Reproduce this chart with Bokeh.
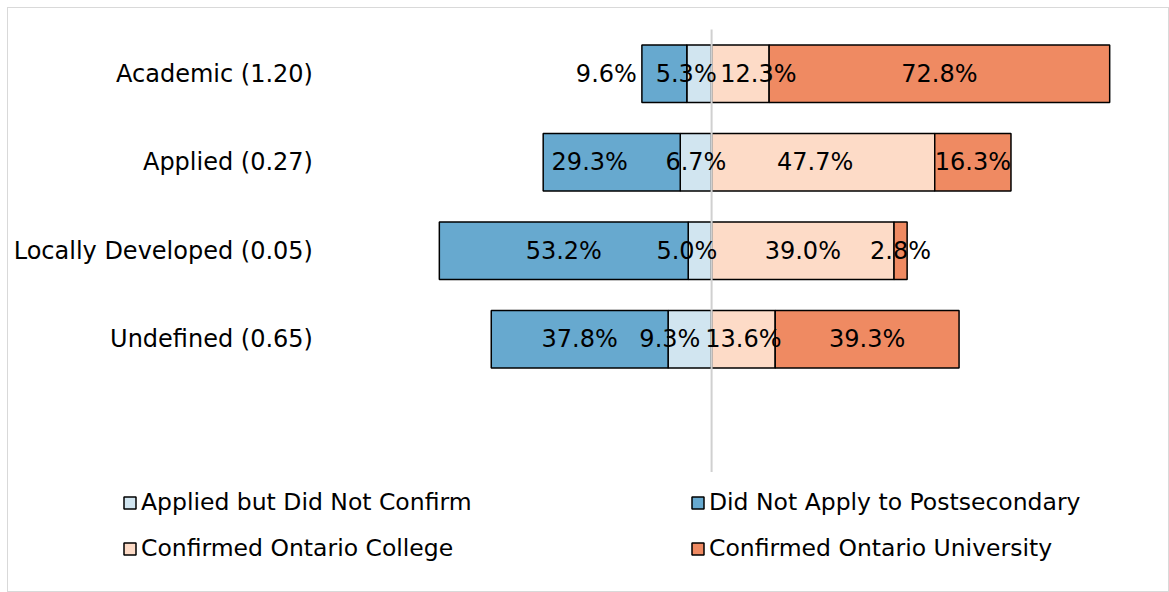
from bokeh.plotting import figure
from bokeh.models import Range1d, FixedTicker, Legend, LegendItem, ColumnDataSource, LinearAxis
from bokeh.core.properties import value
from bokeh.embed import file_html
from bokeh.resources import INLINE

# ---- data ----
categories = ["Academic (1.20)", "Applied (0.27)", "Locally Developed (0.05)", "Undefined (0.65)"]
applied_not_confirm = [5.3, 6.7, 5.0, 9.3]
did_not_apply = [9.6, 29.3, 53.2, 37.8]
confirmed_college = [12.3, 47.7, 39.0, 13.6]
confirmed_university = [72.8, 16.3, 2.8, 39.3]

series_names = ["Applied but Did Not Confirm", "Did Not Apply to Postsecondary",
                "Confirmed Ontario College", "Confirmed Ontario University"]
colors = {"Applied but Did Not Confirm": "#d1e5f0",
          "Did Not Apply to Postsecondary": "#67a9cf",
          "Confirmed Ontario College": "#fddbc7",
          "Confirmed Ontario University": "#ef8a62"}

# small pixel nudges of individual data labels (label placement style, as in the source chart)
label_nudge_px = {
    ("Did Not Apply to Postsecondary", 0): -58,
    ("Applied but Did Not Confirm", 0): -13,
    ("Confirmed Ontario College", 0): 18,
    ("Did Not Apply to Postsecondary", 1): -22,
    ("Confirmed Ontario College", 1): -8,
    ("Applied but Did Not Confirm", 2): -13,
    ("Applied but Did Not Confirm", 3): -20,
}

FONT = "DejaVu Sans"
n = len(categories)
ypos = [n - i for i in range(n)]  # top category first (4..1)

p = figure(width=1162, height=585, output_backend="svg", toolbar_location=None,
           x_axis_type=None, y_axis_type=None,
           x_range=Range1d(-150.3, 98.1), y_range=Range1d(-1.873, 4.737),
           min_border=0)
p.styles = {"border": "1px solid #d9d9d9", "box-sizing": "border-box",
            "margin-left": "7px", "margin-top": "7px"}
p.outline_line_color = None
p.grid.visible = False
p.background_fill_color = "white"

segs = {
    "Applied but Did Not Confirm": ([-a for a in applied_not_confirm], [0] * n),
    "Did Not Apply to Postsecondary": ([-(a + b) for a, b in zip(applied_not_confirm, did_not_apply)],
                                       [-a for a in applied_not_confirm]),
    "Confirmed Ontario College": ([0] * n, confirmed_college),
    "Confirmed Ontario University": (confirmed_college,
                                     [c + u for c, u in zip(confirmed_college, confirmed_university)]),
}
vals = {"Applied but Did Not Confirm": applied_not_confirm,
        "Did Not Apply to Postsecondary": did_not_apply,
        "Confirmed Ontario College": confirmed_college,
        "Confirmed Ontario University": confirmed_university}

renderers = {}
sources = {}
for name in series_names:
    left, right = segs[name]
    src = ColumnDataSource(dict(y=ypos, left=left, right=right,
                                mid=[(l + r) / 2 for l, r in zip(left, right)],
                                dx=[label_nudge_px.get((name, i), 0) for i in range(n)],
                                lab=["%.1f%%" % v for v in vals[name]]))
    renderers[name] = p.hbar(y="y", left="left", right="right", height=0.65, source=src,
                             fill_color=colors[name], line_color="black", line_width=1.5)
    sources[name] = src

# centre reference line (spans the category slots plus one empty slot below)
p.segment(x0=[0], y0=[-0.5], x1=[0], y1=[4.5], line_color="#d0d0d0", line_width=2)

for name in series_names:
    p.text(x="mid", y="y", text="lab", x_offset="dx", source=sources[name],
           text_align="center", text_baseline="middle", text_font=value(FONT),
           text_font_size="24px", text_color="black")

# category axis, drawn at a fixed location inside the frame
yax = LinearAxis(fixed_location=-83.5, ticker=FixedTicker(ticks=ypos),
                 major_label_overrides={y: c for y, c in zip(ypos, categories)},
                 axis_line_color=None, major_tick_line_color=None, minor_tick_line_color=None,
                 major_tick_out=0, major_tick_in=0, major_label_standoff=8,
                 major_label_text_font=FONT, major_label_text_font_size="24px",
                 major_label_text_color="black")
p.add_layout(yax, "left")

legend_order = ["Applied but Did Not Confirm", "Confirmed Ontario College",
                "Did Not Apply to Postsecondary", "Confirmed Ontario University"]
items = [LegendItem(label=nm, renderers=[renderers[nm]]) for nm in legend_order]
legend = Legend(items=items, location=(114, 22), ncols=2,
                label_text_font=FONT, label_text_font_size="23.5px", label_text_color="black",
                glyph_width=15, glyph_height=15, label_standoff=4, label_width=549,
                label_height=46, spacing=0, padding=0, margin=0,
                border_line_color=None, background_fill_alpha=0)
p.add_layout(legend, "center")

open("out.html", "w").write(file_html(p, INLINE))
